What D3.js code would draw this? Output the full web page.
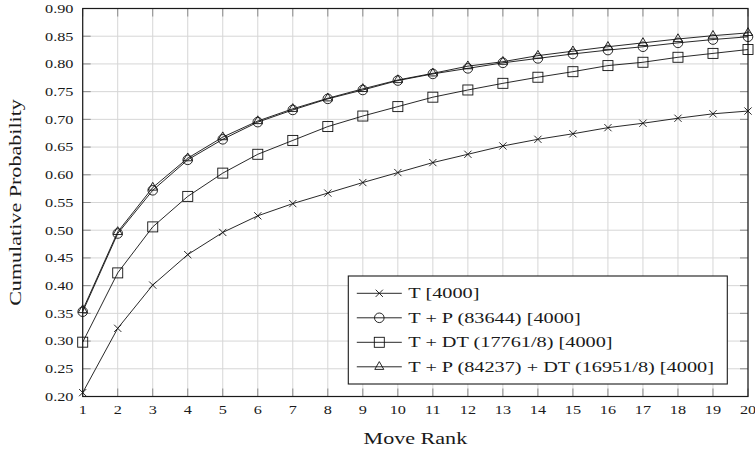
<!DOCTYPE html>
<html>
<head>
<meta charset="utf-8">
<script src="https://cdn.jsdelivr.net/npm/d3@7"></script>
<style>
  body { margin: 0; background: #fff; }
  text { font-family: "Liberation Serif", "Times New Roman", serif; fill: #1a1a1a; }
</style>
</head>
<body>
<svg id="chart" width="755" height="451"></svg>
<script>
// Move ranks on the x axis
const ranks = [1, 2, 3, 4, 5, 6, 7, 8, 9, 10, 11, 12, 13, 14, 15, 16, 17, 18, 19, 20];

// Cumulative probability per move rank, one array per configuration
const valuesT = [0.207, 0.323, 0.401, 0.456, 0.496, 0.526, 0.548, 0.567, 0.586, 0.604,
                 0.622, 0.637, 0.652, 0.664, 0.674, 0.685, 0.693, 0.702, 0.710, 0.715];
const valuesTP = [0.353, 0.494, 0.572, 0.627, 0.664, 0.695, 0.717, 0.737, 0.753, 0.770,
                  0.782, 0.792, 0.802, 0.810, 0.818, 0.825, 0.831, 0.838, 0.844, 0.849];
const valuesTDT = [0.298, 0.423, 0.506, 0.561, 0.603, 0.637, 0.662, 0.687, 0.706, 0.723,
                   0.740, 0.753, 0.765, 0.776, 0.786, 0.797, 0.803, 0.812, 0.819, 0.826];
const valuesTPDT = [0.356, 0.497, 0.577, 0.630, 0.668, 0.697, 0.719, 0.738, 0.755, 0.771,
                    0.783, 0.796, 0.804, 0.815, 0.823, 0.831, 0.838, 0.845, 0.851, 0.856];

const seriesNames = ["T [4000]", "T + P (83644) [4000]", "T + DT (17761/8) [4000]",
                     "T + P (84237) + DT (16951/8) [4000]"];
const seriesMarks = ["cross", "circle", "square", "triangle"];

const yTickValues = [0.20, 0.25, 0.30, 0.35, 0.40, 0.45, 0.50, 0.55, 0.60, 0.65, 0.70, 0.75, 0.80, 0.85, 0.90];
const xTickValues = ranks;
const xTitle = "Move Rank";
const yTitle = "Cumulative Probability";

const series = [valuesT, valuesTP, valuesTDT, valuesTPDT].map((vals, i) => ({
  name: seriesNames[i],
  mark: seriesMarks[i],
  points: ranks.map((r, j) => ({ x: r, y: vals[j] }))
}));

// ---- layout ----
const plot = { left: 82.7, right: 748, top: 8.5, bottom: 396.5 };
const STRETCH = 1.3;   // widens the serif glyphs along the text direction
const svg = d3.select("#chart");

const x = d3.scaleLinear().domain([1, 20]).range([plot.left, plot.right]);
const y = d3.scaleLinear().domain([0.20, 0.90]).range([plot.bottom, plot.top]);

function label(g, tx, ty, str, size, anchor, rotate) {
  return g.append("text")
    .attr("transform", `translate(${tx},${ty})` + (rotate ? ` rotate(${rotate})` : "") + ` scale(${STRETCH},1)`)
    .attr("text-anchor", anchor)
    .attr("font-size", size)
    .text(str);
}

// grid
const grid = svg.append("g").attr("stroke", "#d6d6d6").attr("stroke-width", 1);
xTickValues.forEach(v => grid.append("line")
  .attr("x1", x(v)).attr("x2", x(v)).attr("y1", plot.top).attr("y2", plot.bottom));
yTickValues.forEach(v => grid.append("line")
  .attr("x1", plot.left).attr("x2", plot.right).attr("y1", y(v)).attr("y2", y(v)));

// tick marks on all four sides, pointing inward
const TL = 8;
const ticks = svg.append("g").attr("stroke", "#8c8c8c").attr("stroke-width", 1);
xTickValues.forEach(v => {
  ticks.append("line").attr("x1", x(v)).attr("x2", x(v)).attr("y1", plot.bottom).attr("y2", plot.bottom - TL);
  ticks.append("line").attr("x1", x(v)).attr("x2", x(v)).attr("y1", plot.top).attr("y2", plot.top + TL);
});
yTickValues.forEach(v => {
  ticks.append("line").attr("x1", plot.left).attr("x2", plot.left + TL).attr("y1", y(v)).attr("y2", y(v));
  ticks.append("line").attr("x1", plot.right).attr("x2", plot.right - TL).attr("y1", y(v)).attr("y2", y(v));
});

// frame
svg.append("rect")
  .attr("x", plot.left).attr("y", plot.top)
  .attr("width", plot.right - plot.left).attr("height", plot.bottom - plot.top)
  .attr("fill", "none").attr("stroke", "#1a1a1a").attr("stroke-width", 1.2);

// tick labels
const labels = svg.append("g");
const fmtY = d3.format(".2f");
yTickValues.forEach(v => label(labels, 73.5, y(v) + 4.4, fmtY(v), 12.5, "end"));
xTickValues.forEach(v => label(labels, x(v), 413.5, String(v), 12.5, "middle"));

// axis titles
label(svg, (plot.left + plot.right) / 2, 444, xTitle, 17, "middle");
label(svg, 21, (plot.top + plot.bottom) / 2, yTitle, 17, "middle", -90);

// marker shapes
function drawMark(g, kind, cx, cy) {
  const s = g.append("g").attr("fill", "none").attr("stroke", "#111").attr("stroke-width", 0.9);
  if (kind === "cross") {
    const r = 3.6;
    s.append("path").attr("d", `M${cx - r},${cy - r}L${cx + r},${cy + r}M${cx - r},${cy + r}L${cx + r},${cy - r}`);
  } else if (kind === "circle") {
    s.append("circle").attr("cx", cx).attr("cy", cy).attr("r", 4.8);
  } else if (kind === "square") {
    const h = 5;
    s.append("rect").attr("x", cx - h).attr("y", cy - h).attr("width", 2 * h).attr("height", 2 * h);
  } else {
    const r = 5.2;
    const pts = [[cx, cy - r], [cx - 0.866 * r, cy + 0.5 * r], [cx + 0.866 * r, cy + 0.5 * r]];
    s.append("path").attr("d", "M" + pts.map(p => p.join(",")).join("L") + "Z");
  }
}

// series
const line = d3.line().x(d => x(d.x)).y(d => y(d.y));
const plotG = svg.append("g");
series.forEach(s => {
  const g = plotG.append("g");
  g.append("path").datum(s.points).attr("d", line)
    .attr("fill", "none").attr("stroke", "#111").attr("stroke-width", 0.9);
  s.points.forEach(p => drawMark(g, s.mark, x(p.x), y(p.y)));
});

// legend
const leg = { x: 348.3, y: 276, w: 379, h: 108, row0: 293.3, rowStep: 24.5 };
const lg = svg.append("g");
lg.append("rect").attr("x", leg.x).attr("y", leg.y).attr("width", leg.w).attr("height", leg.h)
  .attr("fill", "#fff").attr("stroke", "#1a1a1a").attr("stroke-width", 1.1);
series.forEach((s, i) => {
  const cy = leg.row0 + i * leg.rowStep;
  lg.append("line").attr("x1", leg.x + 8.5).attr("x2", leg.x + 53.5).attr("y1", cy).attr("y2", cy)
    .attr("stroke", "#111").attr("stroke-width", 0.9);
  drawMark(lg, s.mark, leg.x + 31, cy);
  label(lg, leg.x + 60, cy + 5, s.name, 15.6, "start");
});
</script>
</body>
</html>
